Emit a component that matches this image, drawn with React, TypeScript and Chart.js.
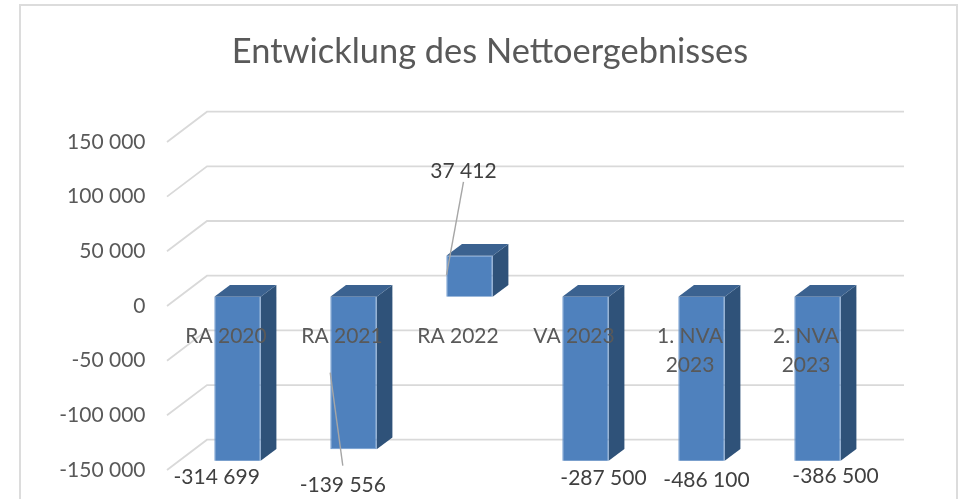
import React, { useEffect, useRef } from "react";
import { Chart, registerables } from "chart.js";

Chart.register(...registerables);

const CATEGORIES: (string | string[])[] = ["RA 2020", "RA 2021", "RA 2022", "VA 2023", ["1. NVA", "2023"], ["2. NVA", "2023"]];
const NET_RESULT = [-314699, -139556, 37412, -287500, -486100, -386500];
const Y_MIN = -150000;
const Y_MAX = 150000;
const Y_STEP = 50000;
const TITLE = "Entwicklung des Nettoergebnisses";

// label offsets from the bar's centre and (clamped) end
const LABEL_DX = [-20.8, -10.7, -6, 18, 5, 18];
const LABEL_DY = [17, 35.6, -84.8, 18, 20, 15.3];
// leader lines: [dx1, dy1, dx2, dy2] relative to the same anchor
const LEADERS: (number[] | null)[] = [null, [-10.7, 16.3, -23.3, -76.7], [-6, -73.8, -23, 19.2], null, null, null];

const FONT = "Lato, Carlito, Calibri, sans-serif";
const GRID = "#d9d9d9";
const TEXT = "#595959";
const FRONT = "#4f81bd";
const SIDE = "#2f5279";
const TOP = "#3b6290";
const fmt = (v: number) => String(v).replace(/\B(?=(\d{3})+$)/g, " ");

const depth = { dx: 15.7, dy: -11.7 };

const frame3d = {
  id: "frame3d",
  afterLayout(chart: any) {
    // let the y tick labels extend past the axis box (it would clip them otherwise)
    chart.scales.y.left = 0;
  },
  beforeDraw(chart: any) {
    const { ctx, width } = chart;
    ctx.save();
    ctx.strokeStyle = "#dcdcdc";
    ctx.lineWidth = 2;
    ctx.beginPath();
    ctx.moveTo(20, chart.height + 2);
    ctx.lineTo(20, 5);
    ctx.lineTo(width - 6, 5);
    ctx.lineTo(width - 6, chart.height + 2);
    ctx.stroke();
    ctx.restore();
  },
  beforeDatasetsDraw(chart: any) {
    const { ctx, chartArea, scales } = chart;
    ctx.save();
    ctx.strokeStyle = GRID;
    ctx.lineWidth = 1.8;
    for (const t of scales.y.ticks) {
      const y = scales.y.getPixelForValue(t.value);
      ctx.beginPath();
      ctx.moveTo(chartArea.left - 12.5, y + 9.3);
      ctx.lineTo(chartArea.left + 27.5, y - 21);
      ctx.lineTo(chartArea.right + 28.5, y - 21);
      ctx.stroke();
    }
    const bars = chart.getDatasetMeta(0).data;
    bars.forEach((b: any) => {
      const p = b.getProps(["x", "y", "base", "width"], true);
      const l = p.x - p.width / 2;
      const r = p.x + p.width / 2;
      const top = Math.max(Math.min(p.y, p.base), chartArea.top);
      const bot = Math.min(Math.max(p.y, p.base), chartArea.bottom);
      ctx.fillStyle = SIDE;
      ctx.beginPath();
      ctx.moveTo(r, top);
      ctx.lineTo(r + depth.dx, top + depth.dy);
      ctx.lineTo(r + depth.dx, bot + depth.dy);
      ctx.lineTo(r, bot);
      ctx.closePath();
      ctx.fill();
      ctx.fillStyle = TOP;
      ctx.beginPath();
      ctx.moveTo(l, top);
      ctx.lineTo(l + depth.dx, top + depth.dy);
      ctx.lineTo(r + depth.dx, top + depth.dy);
      ctx.lineTo(r, top);
      ctx.closePath();
      ctx.fill();
    });
    ctx.restore();
  },
  afterDatasetsDraw(chart: any) {
    const { ctx, chartArea } = chart;
    ctx.save();
    ctx.strokeStyle = "#a6a6a6";
    ctx.lineWidth = 1.4;
    chart.getDatasetMeta(0).data.forEach((b: any, i: number) => {
      const l = LEADERS[i];
      if (!l) return;
      const y = Math.min(Math.max(b.y, chartArea.top), chartArea.bottom);
      ctx.beginPath();
      ctx.moveTo(b.x + l[0], y + l[1]);
      ctx.lineTo(b.x + l[2], y + l[3]);
      ctx.stroke();
    });
    ctx.restore();
  },
  afterDraw(chart: any) {
    const { ctx, chartArea } = chart;
    ctx.save();
    ctx.fillStyle = "#404040";
    ctx.font = `21px ${FONT}`;
    ctx.textAlign = "center";
    ctx.textBaseline = "middle";
    chart.getDatasetMeta(0).data.forEach((b: any, i: number) => {
      const y = Math.min(Math.max(b.y, chartArea.top), chartArea.bottom);
      ctx.fillText(fmt(NET_RESULT[i]), b.x + LABEL_DX[i], y + LABEL_DY[i]);
    });
    ctx.restore();
  },
};

export default function App() {
  const ref = useRef<HTMLCanvasElement>(null);
  useEffect(() => {
    const chart = new Chart(ref.current!, {
      type: "bar",
      data: {
        labels: CATEGORIES as any,
        datasets: [
          {
            data: NET_RESULT,
            backgroundColor: FRONT,
            borderColor: "#6c99cf",
            borderWidth: 1,
            barPercentage: 0.4,
            categoryPercentage: 1,
          },
        ],
      },
      options: {
        animation: false,
        responsive: false,
        events: [],
        layout: { padding: { left: 104.5, right: 87.5, top: 0, bottom: 38.3 } },
        plugins: {
          legend: { display: false },
          tooltip: { enabled: false },
          title: {
            display: true,
            text: TITLE,
            color: TEXT,
            font: { family: FONT, size: 34.4, weight: "normal", lineHeight: 1.2 },
            padding: { top: 30.8, bottom: 60.6 },
          },
        },
        scales: {
          x: {
            position: { y: 0 } as any,
            afterFit: (s: any) => {
              s.height = 0;
              s.paddingLeft = 0;
              s.paddingRight = 0;
            },
            grid: { display: false, drawTicks: false },
            border: { display: false },
            ticks: {
              z: 1,
              color: TEXT,
              font: { family: FONT, size: 21, lineHeight: 1.38 },
              padding: 24.8,
              labelOffset: -11.5,
              autoSkip: false,
              maxRotation: 0,
              minRotation: 0,
            },
          },
          y: {
            min: Y_MIN,
            max: Y_MAX,
            afterFit: (s: any) => {
              s.width = 75;
              s.paddingTop = 0;
              s.paddingBottom = 0;
            },
            grid: { display: false, drawTicks: false },
            border: { display: false },
            ticks: {
              stepSize: Y_STEP,
              color: TEXT,
              font: { family: FONT, size: 21 },
              padding: 34,
              labelOffset: 9.3,
              callback: (v: any) => fmt(Number(v)),
            },
          },
        },
      },
      plugins: [frame3d],
    } as any);
    return () => chart.destroy();
  }, []);
  return (
    <div style={{ position: "absolute", left: 0, top: 0, width: 963, height: 499, overflow: "hidden", background: "#fff" }}>
      <canvas ref={ref} width={963} height={499} style={{ display: "block" }} />
    </div>
  );
}
